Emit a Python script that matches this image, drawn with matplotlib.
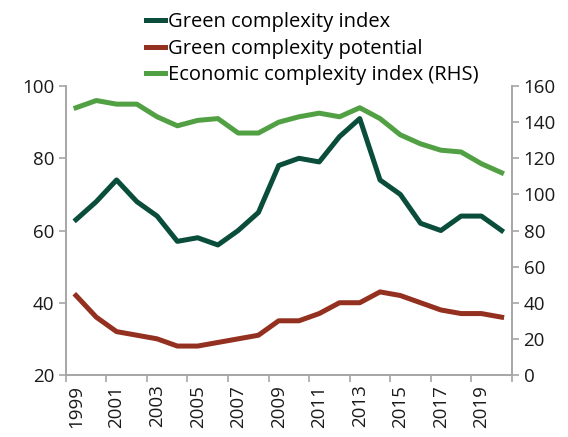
import matplotlib.pyplot as plt
import numpy as np

plt.rcParams['font.family'] = ['Open Sans', 'DejaVu Sans']

years = list(range(1999, 2021))
gci = [63, 68, 74, 68, 64, 57, 58, 56, 60, 65, 78, 80, 79, 86, 91,
       74, 70, 62, 60, 64, 64, 60]
gcp = [42, 36, 32, 31, 30, 28, 28, 29, 30, 31, 35, 35, 37, 40, 40,
       43, 42, 40, 38, 37, 37, 36]
eci = [148, 152, 150, 150, 143, 138, 141, 142, 134, 134, 140, 143, 145, 143, 148,
       142, 133, 128, 124.5, 123.5, 117, 112]

c_gci = '#0a4d3a'
c_gcp = '#93301f'
c_eci = '#52a044'
axis_c = '#a6a6a6'
fs = 13.5

fig = plt.figure(figsize=(5.68, 4.37), dpi=100)
ax = fig.add_axes([0.116, 0.142, 0.785, 0.661])
ax2 = ax.twinx()

x = np.arange(len(years))
l1, = ax.plot(x, gci, color=c_gci, linewidth=3.6, label='Green complexity index')
l2, = ax.plot(x, gcp, color=c_gcp, linewidth=3.6, label='Green complexity potential')
l3, = ax2.plot(x, eci, color=c_eci, linewidth=3.6, label='Economic complexity index (RHS)')

ax.set_xlim(-0.5, len(years) - 0.5)
ax.set_ylim(20, 100)
ax.set_yticks([20, 40, 60, 80, 100])
ax2.set_ylim(0, 160)
ax2.set_yticks(range(0, 161, 20))

# labels centred on categories, tick marks between categories
ax.set_xticks(x[::2])
ax.set_xticklabels([str(y) for y in years[::2]], rotation=90)
ax.set_xticks(np.arange(-0.5, len(years), 2), minor=True)
ax.tick_params(axis='x', which='major', length=0, pad=7)
ax.tick_params(axis='x', which='minor', length=5, color=axis_c, width=1.2)

for a in (ax, ax2):
    a.spines['top'].set_visible(False)
    for s in ('left', 'right', 'bottom'):
        a.spines[s].set_color(axis_c)
        a.spines[s].set_linewidth(1.2)
    a.tick_params(axis='y', length=5, color=axis_c, width=1.2, labelsize=fs, labelcolor='#1a1a1a')
ax.tick_params(axis='x', labelsize=fs, labelcolor='#1a1a1a')

fig.legend(handles=[l1, l2, l3], loc='upper left', bbox_to_anchor=(0.243, 0.99),
           frameon=False, fontsize=14.5, handlelength=0.95, handletextpad=0.15,
           labelspacing=0.32, borderaxespad=0.0)

fig.savefig('out.png', dpi=100)
